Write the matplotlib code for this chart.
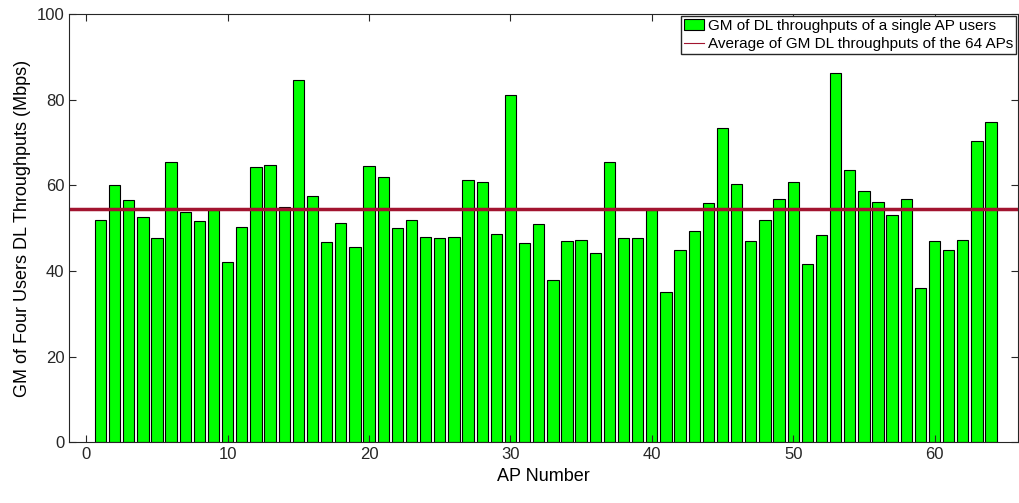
import matplotlib.pyplot as plt
import numpy as np

# GM of DL throughputs per AP (Mbps)
ap_numbers = np.arange(1, 65)
gm_values = [52, 60, 56.5, 52.7, 47.7, 65.5, 53.7, 51.7, 54.3, 42,
             50.3, 64.3, 64.7, 55, 84.7, 57.6, 46.7, 51.2, 45.7, 64.5,
             62, 50, 52, 48, 47.6, 48, 61.3, 60.7, 48.6, 81,
             46.5, 51, 37.8, 47, 47.2, 44.2, 65.5, 47.7, 47.7, 54.3,
             35, 45, 49.3, 55.8, 73.5, 60.2, 47, 51.8, 56.8, 60.7,
             41.6, 48.5, 86.2, 63.6, 58.6, 56, 53, 56.8, 36, 47,
             44.8, 47.2, 70.3, 74.8]
avg_value = 54.5

plt.rcParams['font.family'] = ['Liberation Sans', 'DejaVu Sans']
fig = plt.figure(figsize=(10.2, 5.03), dpi=100)
ax = fig.add_axes([0.068, 0.121, 0.93, 0.851])

bars = ax.bar(ap_numbers, gm_values, width=0.8, color='#00ff00', edgecolor='black',
              linewidth=0.8, label='GM of DL throughputs of a single AP users')
line = ax.axhline(avg_value, color='#a2142f', linewidth=2.5,
                  label='Average of GM DL throughputs of the 64 APs')

ax.set_xlim(-1.2, 65.9)
ax.set_ylim(0, 100)
ax.set_xticks([0, 10, 20, 30, 40, 50, 60])
ax.set_yticks([0, 20, 40, 60, 80, 100])
ax.tick_params(direction='in', labelsize=12, colors='#262626', top=True, right=True, length=5)
for s in ax.spines.values():
    s.set_color('#262626')
ax.set_xlabel('AP Number', fontsize=13)
ax.set_ylabel('GM of Four Users DL Throughputs (Mbps)', fontsize=13)

leg = ax.legend([bars, line], [bars.get_label(), line.get_label()],
                loc='upper right', fontsize=11, fancybox=False, framealpha=1,
                borderaxespad=0.1, handlelength=1.3, handletextpad=0.3,
                borderpad=0.2, labelspacing=0.3)
leg.get_frame().set_edgecolor('#262626')
leg.get_lines()[0].set_linewidth(0.8)

fig.savefig('out.png', dpi=100)
